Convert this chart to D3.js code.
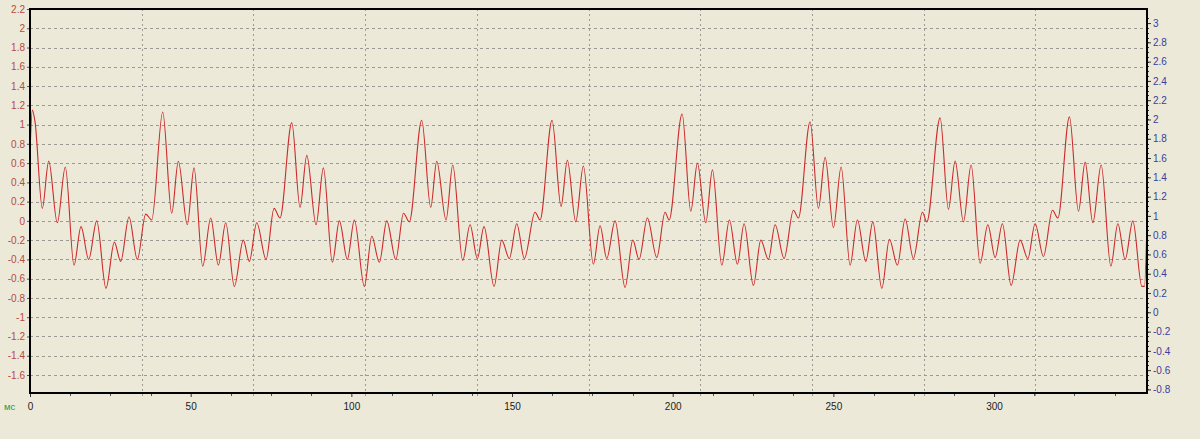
<!DOCTYPE html>
<html><head><meta charset="utf-8">
<script src="https://cdn.jsdelivr.net/npm/d3@7"></script>
<style>
html,body{margin:0;padding:0;background:#ece9d8;}
svg{display:block;font-family:"Liberation Sans",Arial,sans-serif;}
</style></head><body>
<svg id="chart" width="1200" height="439"></svg>
<script>
// ---- data ----
const timeMs = [0,0.72,1.56,3.83,5.82,8.50,10.99,13.69,15.87,18.27,20.76,23.65,26.24,28.23,30.81,33.40,36.01,37.88,41.30,
44.10,46.16,48.96,51.04,53.75,56.24,58.61,60.91,63.59,66.39,68.26,70.56,73.46,75.95,77.81,81.46,
84.04,86.13,89.02,91.30,94.10,96.27,98.76,100.94,104.05,106.36,108.72,111.03,113.83,116.23,118.04,121.90,
124.70,126.57,129.47,131.55,134.66,136.94,139.21,141.29,144.41,146.80,149.17,151.47,153.84,157.17,158.72,162.46,
165.26,167.22,169.83,172.20,175.31,177.40,179.48,182.07,185.18,187.58,189.54,192.12,195.05,197.63,198.88,202.93,
205.63,207.69,210.30,212.36,215.28,217.65,220.14,222.22,225.12,227.42,229.79,231.87,234.67,237.57,239.12,242.76,
245.35,247.43,250.02,252.41,255.21,257.48,260.10,262.28,265.08,267.44,269.93,272.33,274.91,277.71,279.08,283.22,
285.81,287.89,290.48,292.87,295.67,298.07,300.34,302.61,305.32,308.12,310.52,312.79,315.37,318.18,319.86,323.47,
326.27,328.35,330.75,333.33,336.35,338.53,340.80,343.20,346.00,346.81,347.6];
const signal = [0.70,1.15,1.03,0.13,0.62,-0.02,0.56,-0.46,-0.06,-0.40,0.00,-0.70,-0.22,-0.42,0.04,-0.40,0.07,0.01,1.13,
0.08,0.62,-0.04,0.55,-0.47,0.03,-0.46,-0.02,-0.68,-0.20,-0.42,-0.02,-0.40,0.13,0.03,1.02,
0.14,0.68,-0.04,0.55,-0.43,0.00,-0.40,0.01,-0.68,-0.16,-0.43,0.00,-0.40,0.08,-0.01,1.045,
0.14,0.62,0.01,0.58,-0.41,-0.04,-0.39,-0.06,-0.68,-0.20,-0.39,-0.03,-0.39,0.09,0.01,1.045,
0.15,0.63,-0.01,0.57,-0.45,-0.05,-0.39,0.00,-0.69,-0.20,-0.40,0.03,-0.38,0.09,0.01,1.11,
0.10,0.60,-0.02,0.53,-0.46,0.01,-0.45,-0.03,-0.67,-0.20,-0.40,-0.04,-0.39,0.11,0.03,1.03,
0.13,0.66,-0.07,0.56,-0.46,0.01,-0.42,-0.01,-0.70,-0.19,-0.46,0.02,-0.39,0.09,-0.01,1.07,
0.12,0.62,-0.01,0.58,-0.44,-0.04,-0.38,-0.03,-0.67,-0.20,-0.39,-0.03,-0.37,0.11,0.03,1.08,
0.10,0.61,-0.02,0.58,-0.47,-0.03,-0.40,0.00,-0.68,-0.68,0.0];
const leftTicks = [2.2,2,1.8,1.6,1.4,1.2,1,0.8,0.6,0.4,0.2,0,-0.2,-0.4,-0.6,-0.8,-1,-1.2,-1.4,-1.6];
const rightTicks = [3,2.8,2.6,2.4,2.2,2,1.8,1.6,1.4,1.2,1,0.8,0.6,0.4,0.2,0,-0.2,-0.4,-0.6,-0.8];
const xTicks = [0,50,100,150,200,250,300];
const xUnit = "мс";
const xDomain = [0, 347.6];
const leftDomain = [-1.787, 2.2];
const rightDomain = [-0.837, 3.146];

// ---- layout ----
const L = 30, R = 1147, T = 9, B = 393;
const svg = d3.select("#chart");
const x = d3.scaleLinear().domain(xDomain).range([L, R]);
const yL = d3.scaleLinear().domain(leftDomain).range([B, T]);
const yR = d3.scaleLinear().domain(rightDomain).range([B, T]);
const fmt = v => String(Math.round(v * 10) / 10);

// background
svg.append("rect").attr("width", 1200).attr("height", 439).attr("fill", "#ece9d8");

// grid
const grid = svg.append("g").attr("stroke", "#9a9a92").attr("stroke-width", 1).attr("shape-rendering", "crispEdges");
grid.selectAll("line.h").data(leftTicks.filter(v => v < 2.19)).join("line")
  .attr("x1", L).attr("x2", R)
  .attr("y1", d => Math.round(yL(d)) + 0.5).attr("y2", d => Math.round(yL(d)) + 0.5)
  .attr("stroke-dasharray", "3,3");
const vFrac = d3.range(1, 10).map(i => xDomain[0] + (xDomain[1] - xDomain[0]) * i / 10);
grid.selectAll("line.v").data(vFrac).join("line")
  .attr("x1", d => Math.round(x(d)) + 0.5).attr("x2", d => Math.round(x(d)) + 0.5)
  .attr("y1", T).attr("y2", B + 3)
  .attr("stroke-dasharray", "2,3");

// signal line
svg.append("clipPath").attr("id", "clip").append("rect")
  .attr("x", L).attr("y", T).attr("width", R - L).attr("height", B - T);
const pts = timeMs.map((t, i) => [t, signal[i]]);
const line = d3.line().x(d => x(d[0])).y(d => yL(d[1])).curve(d3.curveMonotoneX);
svg.append("path").datum(pts).attr("clip-path", "url(#clip)")
  .attr("fill", "none").attr("stroke", "#cc2a2a").attr("stroke-width", 1.1).attr("d", line);

// axes
const leftAxis = svg.append("g").attr("transform", `translate(${L},0)`)
  .call(d3.axisLeft(yL).tickValues(leftTicks).tickFormat(fmt).tickSize(3).tickSizeOuter(0).tickPadding(2));
leftAxis.select(".domain").remove();
leftAxis.selectAll("text").attr("fill", "#b84a40").style("font-size", "10px");
leftAxis.selectAll("line").attr("stroke", "#555");

const rightAxis = svg.append("g").attr("transform", `translate(${R},0)`)
  .call(d3.axisRight(yR).tickValues(rightTicks).tickFormat(fmt).tickSize(4).tickSizeOuter(0).tickPadding(2));
rightAxis.select(".domain").remove();
rightAxis.selectAll("text").attr("fill", "#3c3ca0").style("font-size", "10px");
rightAxis.selectAll("line").attr("stroke", "#333");
// right minor ticks
const rMinor = d3.range(-0.8, 3.1, 0.05);
svg.append("g").selectAll("line").data(rMinor).join("line")
  .attr("x1", R).attr("x2", R + 2)
  .attr("y1", d => Math.round(yR(d)) + 0.5).attr("y2", d => Math.round(yR(d)) + 0.5)
  .attr("stroke", "#333").attr("stroke-width", 1);

const bottomAxis = svg.append("g").attr("transform", `translate(0,${B})`)
  .call(d3.axisBottom(x).tickValues(xTicks).tickFormat(d3.format("d")).tickSize(4).tickSizeOuter(0).tickPadding(6));
bottomAxis.select(".domain").remove();
bottomAxis.selectAll("text").attr("fill", "#222").style("font-size", "10px");
bottomAxis.selectAll("line").attr("stroke", "#333");
// bottom minor ticks
svg.append("g").selectAll("line").data(d3.range(12.5, 347, 12.5).filter(v => v % 50 !== 0)).join("line")
  .attr("x1", d => Math.round(x(d)) + 0.5).attr("x2", d => Math.round(x(d)) + 0.5)
  .attr("y1", B).attr("y2", B + 3).attr("stroke", "#555");

// border
svg.append("rect").attr("x", L).attr("y", T).attr("width", R - L).attr("height", B - T)
  .attr("fill", "none").attr("stroke", "#000").attr("stroke-width", 2);

// unit label
svg.append("text").attr("x", 4).attr("y", 410).attr("fill", "#2a9a3a")
  .style("font-size", "9.5px").text(xUnit);
</script>
</body></html>
